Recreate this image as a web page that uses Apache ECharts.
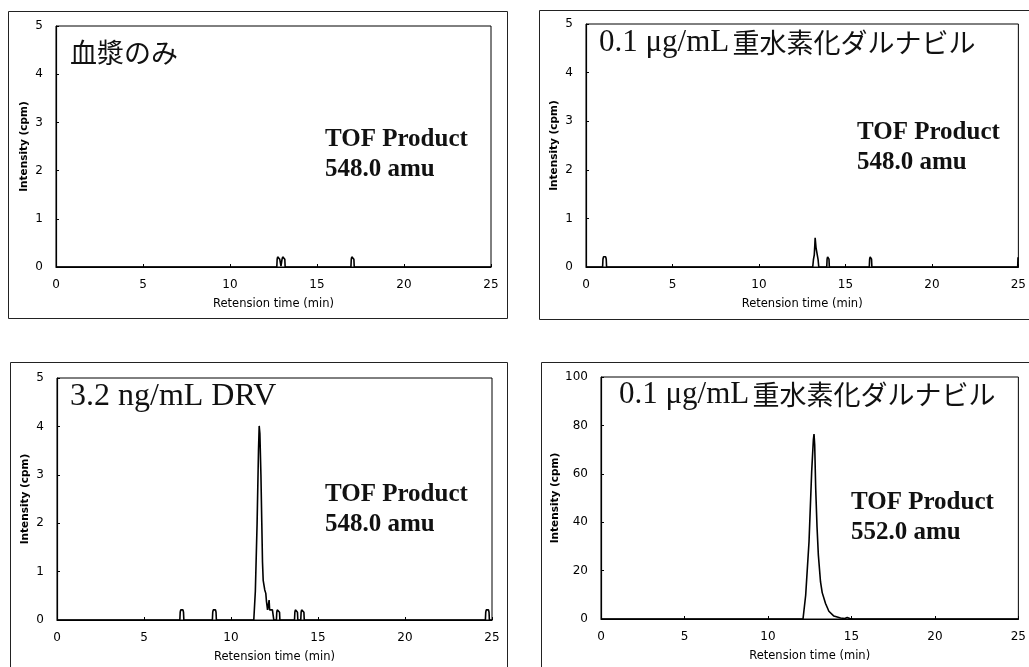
<!DOCTYPE html>
<html>
<head>
<meta charset="utf-8">
<script src="https://cdn.jsdelivr.net/npm/echarts@6/dist/echarts.min.js"></script>
<style>
html,body{margin:0;padding:0;background:#fff;}
#c{width:1029px;height:667px;}
</style>
</head>
<body>
<div id="c"></div>
<script>
// ---------- data ----------
const xTicks = [0, 5, 10, 15, 20, 25];
const xAxisName = 'Retension time (min)';
const yAxisName = 'Intensity (cpm)';

// Panel 1: plasma only, TOF product 548.0 amu
const p1Title = '血漿のみ';
const p1Product = ['TOF Product', '548.0 amu'];
const p1Time = [0, 12.69, 12.71, 12.74, 12.82, 12.86, 12.93, 12.99, 13.03, 13.11, 13.15, 13.17, 16.95, 16.97, 17.00, 17.09, 17.12, 17.14, 25];
const p1Int  = [0, 0, 0.16, 0.21, 0.21, 0.16, 0.02, 0.16, 0.21, 0.21, 0.16, 0, 0, 0.16, 0.21, 0.21, 0.16, 0, 0];
const p1YMax = 5, p1YStep = 1;

// Panel 2: 0.1 ug/mL deuterated darunavir, 548.0 amu
const p2TitleLatin = '0.1 μg/mL';
const p2TitleJp = '重水素化ダルナビル';
const p2Product = ['TOF Product', '548.0 amu'];
const p2Time = [0, 0.96, 0.98, 1.01, 1.14, 1.17, 1.19, 13.11, 13.15, 13.2, 13.23, 13.25, 13.27, 13.3, 13.38, 13.42, 13.46, 13.92, 13.94, 13.97, 14.02, 14.05, 14.07, 16.38, 16.40, 16.43, 16.48, 16.51, 16.53, 24.96, 24.98, 25];
const p2Int  = [0, 0, 0.16, 0.21, 0.21, 0.16, 0, 0, 0.15, 0.25, 0.45, 0.6, 0.58, 0.4, 0.4, 0.15, 0, 0, 0.16, 0.21, 0.21, 0.16, 0, 0, 0.16, 0.21, 0.21, 0.16, 0, 0, 0.2, 0.2];
const p2YMax = 5, p2YStep = 1;

// Panel 3: 3.2 ng/mL DRV, 548.0 amu
const p3Title = '3.2 ng/mL DRV';
const p3Product = ['TOF Product', '548.0 amu'];
const p3Time = [0, 7.06, 7.08, 7.11, 7.24, 7.27, 7.29, 8.93, 8.95, 8.98, 9.11, 9.14, 9.16, 11.31, 11.4, 11.5, 11.58, 11.62, 11.66, 11.72, 11.77, 11.81, 11.85, 11.9, 11.94, 12.0, 12.04, 12.1, 12.17, 12.19, 12.22, 12.38, 12.46, 12.61, 12.63, 12.66, 12.76, 12.79, 12.81, 13.65, 13.67, 13.70, 13.79, 13.82, 13.84, 14.01, 14.03, 14.06, 14.16, 14.19, 14.21, 24.62, 24.64, 24.67, 24.80, 24.83, 24.85, 25];
const p3Int  = [0, 0, 0.16, 0.21, 0.21, 0.16, 0, 0, 0.16, 0.21, 0.21, 0.16, 0, 0, 0.6, 2.0, 3.5, 4.01, 3.85, 3.0, 2.0, 1.2, 0.82, 0.78, 0.62, 0.55, 0.38, 0.21, 0.21, 0.41, 0.21, 0.21, 0, 0, 0.16, 0.21, 0.21, 0.16, 0, 0, 0.16, 0.21, 0.21, 0.16, 0, 0, 0.16, 0.21, 0.21, 0.16, 0, 0, 0.16, 0.21, 0.21, 0.16, 0, 0];
const p3YMax = 5, p3YStep = 1;

// Panel 4: 0.1 ug/mL deuterated darunavir, 552.0 amu
const p4TitleLatin = '0.1 μg/mL';
const p4TitleJp = '重水素化ダルナビル';
const p4Product = ['TOF Product', '552.0 amu'];
const p4Time = [0, 12.1, 12.26, 12.46, 12.62, 12.72, 12.76, 12.8, 12.86, 12.94, 13.02, 13.15, 13.25, 13.45, 13.65, 13.95, 14.35, 14.6, 14.75, 14.9, 15.1, 25];
const p4Int  = [0, 0, 9.8, 31.9, 61, 74, 76.4, 72, 54, 38, 26.4, 15.3, 10.9, 6.4, 3.2, 1.2, 0.4, 0.2, 0.6, 0.2, 0, 0];
const p4YMax = 100, p4YStep = 20;

// ---------- layout ----------
const grids = [
  {left: 56, top: 26, width: 435, height: 241},
  {left: 586, top: 24, width: 434, height: 243},
  {left: 57, top: 378, width: 435, height: 242},
  {left: 601, top: 377, width: 420, height: 242}
];
const panels = [
  {t: p1Time, y: p1Int, max: p1YMax, step: p1YStep},
  {t: p2Time, y: p2Int, max: p2YMax, step: p2YStep},
  {t: p3Time, y: p3Int, max: p3YMax, step: p3YStep},
  {t: p4Time, y: p4Int, max: p4YMax, step: p4YStep}
];

const tickFont = {fontFamily: 'DejaVu Sans', fontSize: 12, color: '#000'};
const prodFont = 'bold 25px "Liberation Serif"';
const richTitle = {
  a: {fontFamily: 'Liberation Serif', fontSize: 31, fill: '#111'},
  b: {fontFamily: 'Noto Sans CJK JP', fontSize: 27, fill: '#111'}
};

const option = {
  animation: false,
  backgroundColor: '#fff',
  grid: grids.map(g => Object.assign({show: true, borderColor: '#000', borderWidth: 1, backgroundColor: 'transparent'}, g)),
  xAxis: panels.map((p, i) => ({
    type: 'value', gridIndex: i, min: xTicks[0], max: xTicks[xTicks.length - 1], interval: 5,
    name: xAxisName, nameLocation: 'middle', nameGap: 31,
    nameTextStyle: {fontFamily: 'DejaVu Sans', fontSize: 11.5, color: '#000'},
    axisLine: {show: true, lineStyle: {color: '#000', width: 1.2}},
    axisTick: {show: true, inside: true, length: 3, lineStyle: {color: '#000'}},
    axisLabel: Object.assign({margin: 12}, tickFont),
    splitLine: {show: false}
  })),
  yAxis: panels.map((p, i) => ({
    type: 'value', gridIndex: i, min: 0, max: p.max, interval: p.step,
    name: yAxisName, nameLocation: 'middle', nameGap: i === 3 ? 40 : 26,
    nameTextStyle: {fontFamily: 'DejaVu Sans', fontSize: 10.5, fontWeight: 'bold', color: '#000'},
    axisLine: {show: true, lineStyle: {color: '#000', width: 1.2}},
    axisTick: {show: true, inside: true, length: 3, lineStyle: {color: '#000'}},
    axisLabel: Object.assign({margin: 13}, tickFont),
    splitLine: {show: false}
  })),
  series: panels.map((p, i) => ({
    type: 'line', xAxisIndex: i, yAxisIndex: i,
    data: p.t.map((t, k) => [t, p.y[k]]),
    showSymbol: false, symbol: 'none', smooth: false,
    lineStyle: {color: '#000', width: 1.6},
    clip: true
  })),
  graphic: [
    {type: 'rect', shape: {x: 8.5, y: 11.5, width: 499, height: 307}, style: {fill: 'none', stroke: '#222', lineWidth: 1}, silent: true},
    {type: 'rect', shape: {x: 539.5, y: 10.5, width: 520, height: 309}, style: {fill: 'none', stroke: '#222', lineWidth: 1}, silent: true},
    {type: 'rect', shape: {x: 10.5, y: 362.5, width: 497, height: 340}, style: {fill: 'none', stroke: '#222', lineWidth: 1}, silent: true},
    {type: 'rect', shape: {x: 541.5, y: 362.5, width: 520, height: 340}, style: {fill: 'none', stroke: '#222', lineWidth: 1}, silent: true},

    {type: 'text', x: 70, y: 53, style: {text: p1Title, font: '27px "Noto Sans CJK JP"', fill: '#111', textVerticalAlign: 'middle'}},
    {type: 'text', x: 599, y: 43, style: {text: '{a|' + p2TitleLatin + '} {b|' + p2TitleJp + '}', textVerticalAlign: 'middle', fill: '#111', rich: richTitle}},
    {type: 'text', x: 70, y: 397, style: {text: p3Title, font: '32px "Liberation Serif"', fill: '#111', textVerticalAlign: 'middle'}},
    {type: 'text', x: 619, y: 395, style: {text: '{a|' + p4TitleLatin + '} {b|' + p4TitleJp + '}', textVerticalAlign: 'middle', fill: '#111', rich: richTitle}},

    {type: 'text', x: 325, y: 140, style: {text: p1Product[0], font: prodFont, fill: '#111', textVerticalAlign: 'middle'}},
    {type: 'text', x: 325, y: 170, style: {text: p1Product[1], font: prodFont, fill: '#111', textVerticalAlign: 'middle'}},
    {type: 'text', x: 857, y: 133, style: {text: p2Product[0], font: prodFont, fill: '#111', textVerticalAlign: 'middle'}},
    {type: 'text', x: 857, y: 163, style: {text: p2Product[1], font: prodFont, fill: '#111', textVerticalAlign: 'middle'}},
    {type: 'text', x: 325, y: 495, style: {text: p3Product[0], font: prodFont, fill: '#111', textVerticalAlign: 'middle'}},
    {type: 'text', x: 325, y: 525, style: {text: p3Product[1], font: prodFont, fill: '#111', textVerticalAlign: 'middle'}},
    {type: 'text', x: 851, y: 503, style: {text: p4Product[0], font: prodFont, fill: '#111', textVerticalAlign: 'middle'}},
    {type: 'text', x: 851, y: 533, style: {text: p4Product[1], font: prodFont, fill: '#111', textVerticalAlign: 'middle'}}
  ]
};

const chart = echarts.init(document.getElementById('c'), null, {renderer: 'canvas'});
chart.setOption(option);
</script>
</body>
</html>
